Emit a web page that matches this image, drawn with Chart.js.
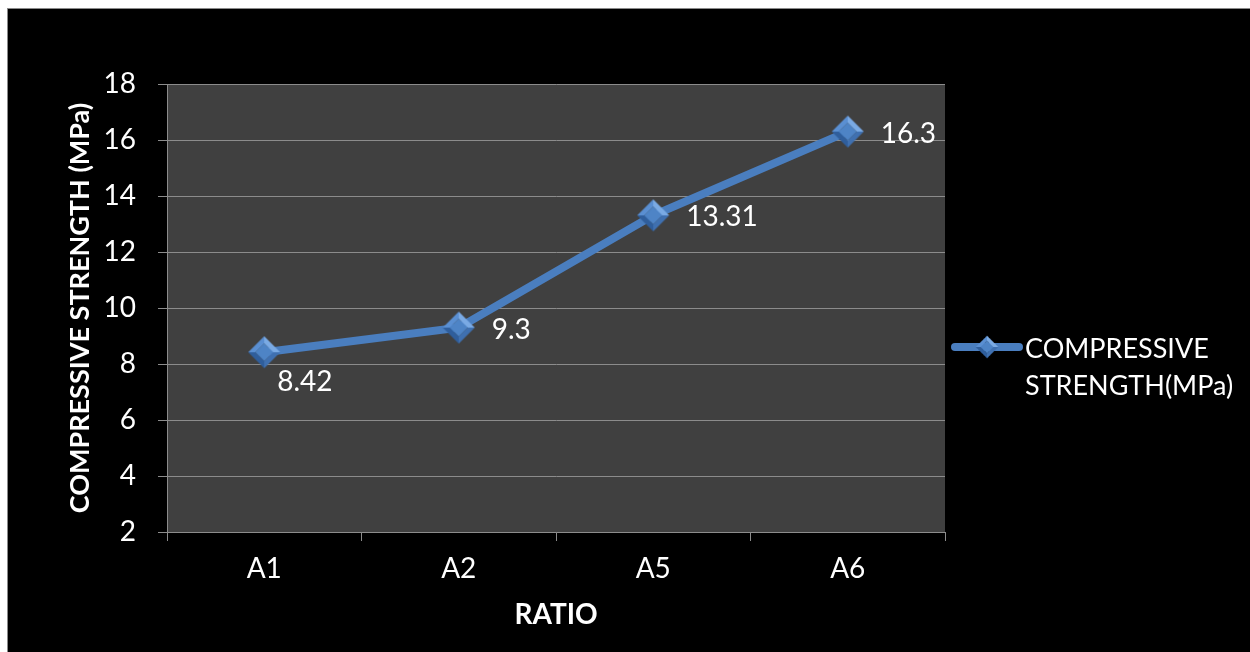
<!DOCTYPE html>
<html>
<head>
<meta charset="utf-8">
<script src="https://cdn.jsdelivr.net/npm/chart.js@4.4.1/dist/chart.umd.min.js"></script>
<style>
  html, body { margin: 0; padding: 0; background: #fff; overflow: hidden; }
  #wrap { width: 1250px; height: 652px; position: relative; }
  canvas { display: block; }
</style>
</head>
<body>
<div id="wrap"><canvas id="chart" width="1250" height="652"></canvas></div>
<script>
// Compressive strength by mix ratio
const categories = ['A1', 'A2', 'A5', 'A6'];
const strengthValues = [8.42, 9.3, 13.31, 16.3];
const seriesName = 'COMPRESSIVE STRENGTH(MPa)';
const yAxisMin = 2;
const yAxisMax = 18;
const yAxisStep = 2;

const FONT = 'Lato, "Open Sans", sans-serif';
const LINE_BLUE = '#4a7ebf';

// Beveled diamond marker image
function makeDiamond(size) {
  const c = document.createElement('canvas');
  c.width = size; c.height = size;
  const g = c.getContext('2d');
  const m = size / 2, r = size / 2 - 1, ir = r * 0.55;
  const outer = [[m, m - r], [m + r, m], [m, m + r], [m - r, m]];
  const inner = [[m, m - ir], [m + ir, m], [m, m + ir], [m - ir, m]];
  const facetColors = ['#7aaae4', '#3f70b0', '#2f5e9c', '#5a8fd2'];
  for (let i = 0; i < 4; i++) {
    const j = (i + 1) % 4;
    g.beginPath();
    g.moveTo(outer[i][0], outer[i][1]);
    g.lineTo(outer[j][0], outer[j][1]);
    g.lineTo(inner[j][0], inner[j][1]);
    g.lineTo(inner[i][0], inner[i][1]);
    g.closePath();
    g.fillStyle = facetColors[i];
    g.fill();
  }
  g.beginPath();
  inner.forEach((p, i) => i ? g.lineTo(p[0], p[1]) : g.moveTo(p[0], p[1]));
  g.closePath();
  g.fillStyle = '#4e84c6';
  g.fill();
  return c;
}
const markerImage = makeDiamond(34);

// Black frame and dark plot panel behind everything
const backdrop = {
  id: 'backdrop',
  beforeDraw(chart) {
    const { ctx, chartArea: a } = chart;
    ctx.save();
    ctx.fillStyle = '#ffffff';
    ctx.fillRect(0, 0, chart.width, chart.height);
    ctx.fillStyle = '#000000';
    ctx.fillRect(7, 8, chart.width - 7, chart.height - 8);
    ctx.fillStyle = '#8a8a8a';
    ctx.fillRect(7, 8, chart.width - 7, 1);
    ctx.fillRect(7, 8, 1, chart.height - 8);
    ctx.fillStyle = '#404040';
    ctx.fillRect(a.left, a.top, a.right - a.left, a.bottom - a.top);
    ctx.restore();
  }
};

// Value labels next to each point
const valueLabels = {
  id: 'valueLabels',
  afterDatasetsDraw(chart, args, opts) {
    const { ctx } = chart;
    const ds = chart.data.datasets[0];
    const meta = chart.getDatasetMeta(0);
    ctx.save();
    ctx.font = '28px ' + FONT;
    ctx.fillStyle = '#ffffff';
    ctx.textAlign = 'left';
    ctx.textBaseline = 'middle';
    meta.data.forEach((pt, i) => {
      const below = (opts.below || []).includes(i);
      const x = pt.x + (below ? 13 : 33);
      const y = pt.y + (below ? 30 : 2);
      ctx.fillText(String(ds.data[i]), x, y);
    });
    ctx.restore();
  }
};

// Legend on the right: line sample with a diamond and a two-line caption
const sideLegend = {
  id: 'sideLegend',
  afterDraw(chart) {
    const { ctx } = chart;
    const ds = chart.data.datasets[0];
    const y = 347;
    ctx.save();
    ctx.strokeStyle = ds.borderColor;
    ctx.lineWidth = 8;
    ctx.lineCap = 'round';
    ctx.beginPath();
    ctx.moveTo(955, y);
    ctx.lineTo(1019, y);
    ctx.stroke();
    ctx.drawImage(markerImage, 975, y - 12, 24, 24);
    ctx.font = '27px ' + FONT;
    ctx.fillStyle = '#ffffff';
    ctx.textAlign = 'left';
    ctx.textBaseline = 'middle';
    const words = ds.label.split(' ');
    words.forEach((w, i) => ctx.fillText(w, 1025, y + 2 + i * 37));
    ctx.restore();
  }
};

new Chart(document.getElementById('chart'), {
  type: 'line',
  data: {
    labels: categories,
    datasets: [{
      label: seriesName,
      data: strengthValues,
      borderColor: LINE_BLUE,
      borderWidth: 8,
      tension: 0,
      pointStyle: markerImage,
      pointRadius: 17,
      pointHoverRadius: 17
    }]
  },
  options: {
    responsive: false,
    animation: false,
    devicePixelRatio: 1,
    layout: { padding: { left: 0, top: 84, right: 305, bottom: 0 } },
    plugins: {
      legend: { display: false },
      tooltip: { enabled: false },
      valueLabels: { below: [0] }
    },
    scales: {
      x: {
        offset: true,
        afterFit(scale) { scale.height = 120; },
        grid: {
          offset: true,
          drawOnChartArea: false,
          color: '#8c8c8c',
          tickLength: 9,
          lineWidth: 1
        },
        border: { color: '#8c8c8c', width: 1 },
        ticks: {
          color: '#ffffff',
          font: { family: FONT, size: 28 },
          padding: 11
        },
        title: {
          display: true,
          text: 'RATIO',
          color: '#ffffff',
          font: { family: FONT, size: 28, weight: 'bold' },
          padding: { top: 0, bottom: 20 }
        }
      },
      y: {
        min: yAxisMin,
        max: yAxisMax,
        afterFit(scale) { scale.width = 167; },
        grid: {
          color: '#8c8c8c',
          tickLength: 9,
          lineWidth: 1
        },
        border: { color: '#8c8c8c', width: 1 },
        ticks: {
          stepSize: yAxisStep,
          color: '#ffffff',
          font: { family: FONT, size: 28 },
          padding: 22
        },
        title: {
          display: true,
          text: 'COMPRESSIVE STRENGTH (MPa)',
          color: '#ffffff',
          font: { family: FONT, size: 27, weight: 'bold' },
          padding: { top: 64, bottom: 0 }
        }
      }
    }
  },
  plugins: [backdrop, valueLabels, sideLegend]
});
</script>
</body>
</html>
